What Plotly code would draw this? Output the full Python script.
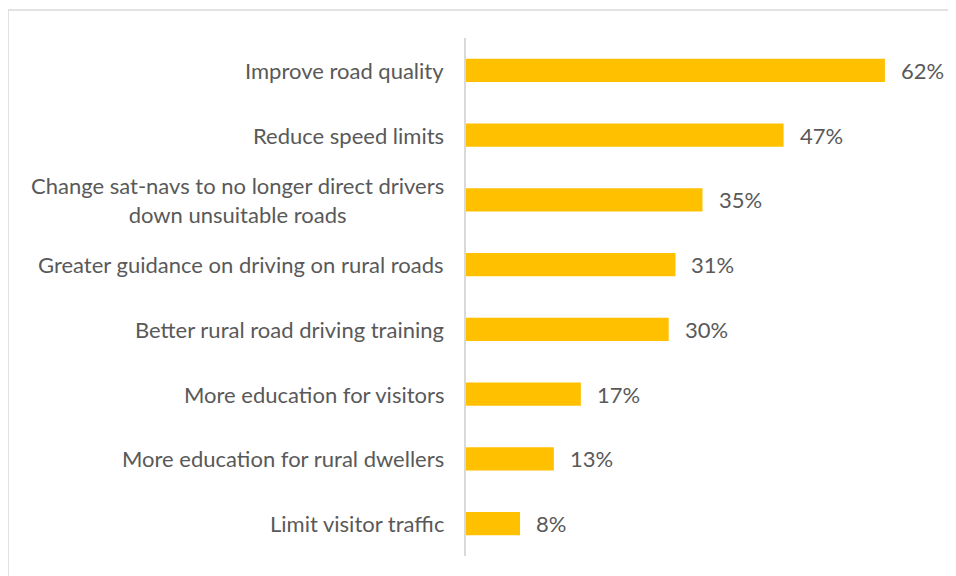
import plotly.graph_objects as go

categories = [
    "Improve road quality",
    "Reduce speed limits",
    "Change sat-navs to no longer direct drivers<br>down unsuitable roads",
    "Greater guidance on driving on rural roads",
    "Better rural road driving training",
    "More education for visitors",
    "More education for rural dwellers",
    "Limit visitor traffic",
]
values = [62, 47, 35, 31, 30, 17, 13, 8]

font_family = "Lato, Open Sans, sans-serif"
text_color = "#595959"

fig = go.Figure(go.Bar(
    x=values,
    y=categories,
    orientation="h",
    marker=dict(color="#FFC000", line=dict(width=0)),
    width=0.36,
    hoverinfo="skip",
))

# data labels to the right of each bar
for cat, v in zip(categories, values):
    fig.add_annotation(x=v, y=cat, xref="x", yref="y", text=f"{v}%",
                       showarrow=False, xanchor="left", xshift=14,
                       font=dict(family=font_family, size=22, color=text_color))

# category labels (centered multi-line like the original)
for cat in categories:
    fig.add_annotation(x=0, y=cat, xref="x", yref="y", text=cat,
                       showarrow=False, xanchor="right", align="center",
                       xshift=-20,
                       font=dict(family=font_family, size=22, color=text_color))

# outer chart border (runs off the right and bottom edges)
fig.add_shape(type="rect", xref="paper", yref="paper",
              x0=-458 / 473, x1=1.3, y0=-0.3, y1=1 + 28 / 518,
              line=dict(color="#D9D9D9", width=1.5), fillcolor="rgba(0,0,0,0)",
              layer="below")

fig.update_layout(
    width=948, height=568,
    margin=dict(l=458, r=17, t=30, b=20),
    paper_bgcolor="white", plot_bgcolor="white",
    showlegend=False,
    font=dict(family=font_family, color=text_color),
)
fig.update_xaxes(range=[0, 70], visible=False, fixedrange=True)
fig.update_yaxes(categoryorder="array", categoryarray=categories[::-1],
                 range=[-0.5, 7.5], showticklabels=False, showgrid=False,
                 showline=True, linecolor="#D9D9D9", linewidth=1.5,
                 zeroline=False, fixedrange=True)

fig.write_html("out.html")
